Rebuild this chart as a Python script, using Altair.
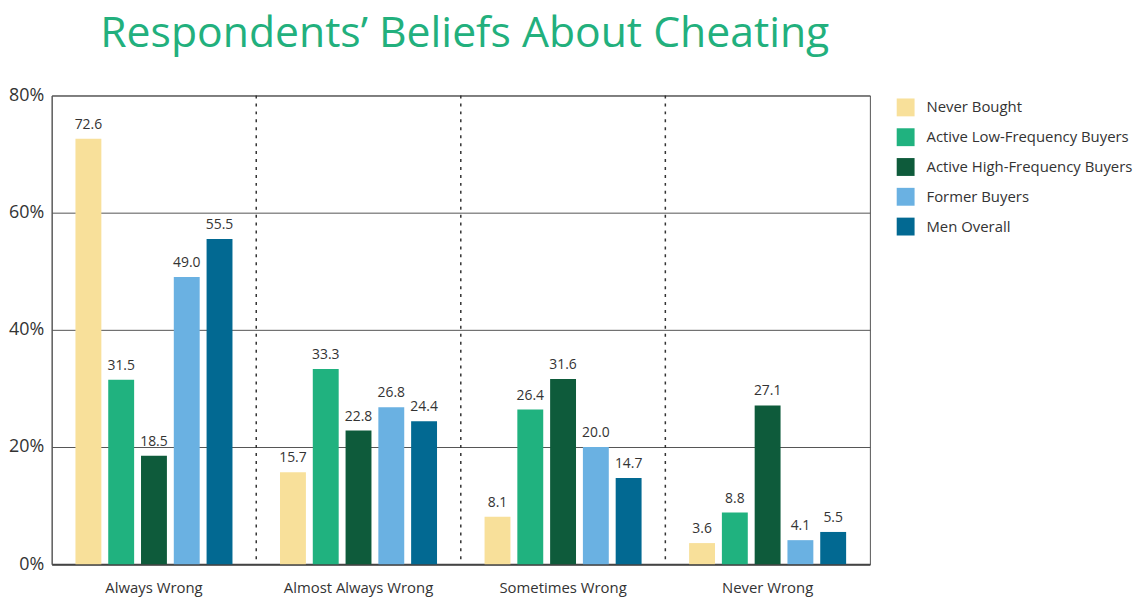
import altair as alt
import pandas as pd

groups = ["Always Wrong", "Almost Always Wrong", "Sometimes Wrong", "Never Wrong"]
series = ["Never Bought", "Active Low-Frequency Buyers", "Active High-Frequency Buyers",
          "Former Buyers", "Men Overall"]
colors = ["#F8E09A", "#20B27F", "#0E5B3B", "#6AB1E2", "#026992"]

never_bought = [72.6, 15.7, 8.1, 3.6]
active_low = [31.5, 33.3, 26.4, 8.8]
active_high = [18.5, 22.8, 31.6, 27.1]
former = [49.0, 26.8, 20.0, 4.1]
men_overall = [55.5, 24.4, 14.7, 5.5]

y_ticks = [0, 20, 40, 60, 80]
separators = groups[1:]

rows = []
for s, vals in zip(series, [never_bought, active_low, active_high, former, men_overall]):
    for g, v in zip(groups, vals):
        rows.append({"group": g, "series": s, "value": v})
df = pd.DataFrame(rows)
sep_df = pd.DataFrame({"group": separators})

FONT = "Open Sans"

x_axis = alt.Axis(title=None, labelFontSize=15, labelColor="#333",
                  labelPadding=17, ticks=False, domainColor="#444",
                  domainWidth=2, labelFont=FONT, labelAngle=0,
                  bandPosition=0.5)
x_enc = alt.X("group:N", sort=groups,
              scale=alt.Scale(paddingInner=0, paddingOuter=0),
              axis=x_axis)
xoff = alt.XOffset("series:N", sort=series,
                   scale=alt.Scale(paddingInner=0.21, paddingOuter=0.725))
y_enc = alt.Y("value:Q", scale=alt.Scale(domain=[0, 80], nice=False),
              axis=alt.Axis(title=None, values=y_ticks, labelExpr="datum.value + '%'",
                            labelFontSize=18, labelColor="#333", labelFont=FONT,
                            ticks=False, labelPadding=8, grid=True, gridColor="#555",
                            gridWidth=1, domainColor="#555", domainWidth=1))

bars = alt.Chart(df).mark_bar().encode(
    x=x_enc,
    xOffset=xoff,
    y=y_enc,
    color=alt.Color("series:N", sort=series,
                    scale=alt.Scale(domain=series, range=colors),
                    legend=alt.Legend(title=None, orient="none", legendX=851, legendY=3,
                                      symbolType="square", symbolSize=324,
                                      symbolStrokeWidth=0, labelFontSize=15,
                                      labelColor="#333", labelFont=FONT, labelLimit=300,
                                      rowPadding=12, labelOffset=12, padding=0)),
)

labels = alt.Chart(df).mark_text(baseline="bottom", dy=-7, fontSize=14,
                                 color="#333", font=FONT).encode(
    x=alt.X("group:N", sort=groups, axis=x_axis),
    xOffset=xoff,
    y="value:Q",
    text=alt.Text("value:Q", format=".1f"),
)

seps = alt.Chart(sep_df).mark_rule(color="#333", strokeDash=[3, 5], strokeWidth=1.5).encode(
    x=alt.X("group:N", sort=groups, bandPosition=0, axis=x_axis),
)

chart = alt.layer(bars, labels, seps).properties(
    width=824,
    height=472,
    autosize=alt.AutoSizeParams(type="none"),
    padding={"left": 44, "top": 86, "right": 269, "bottom": 40},
    title=alt.TitleParams("Respondents\u2019 Beliefs About Cheating", fontSize=43,
                          font=FONT, fontWeight="normal", color="#22B07D",
                          anchor="middle", offset=-3, dx=4, baseline="alphabetic"),
).configure_view(stroke="#555", strokeWidth=1)

chart.save("out.html", embed_options={"renderer": "svg", "actions": False})
